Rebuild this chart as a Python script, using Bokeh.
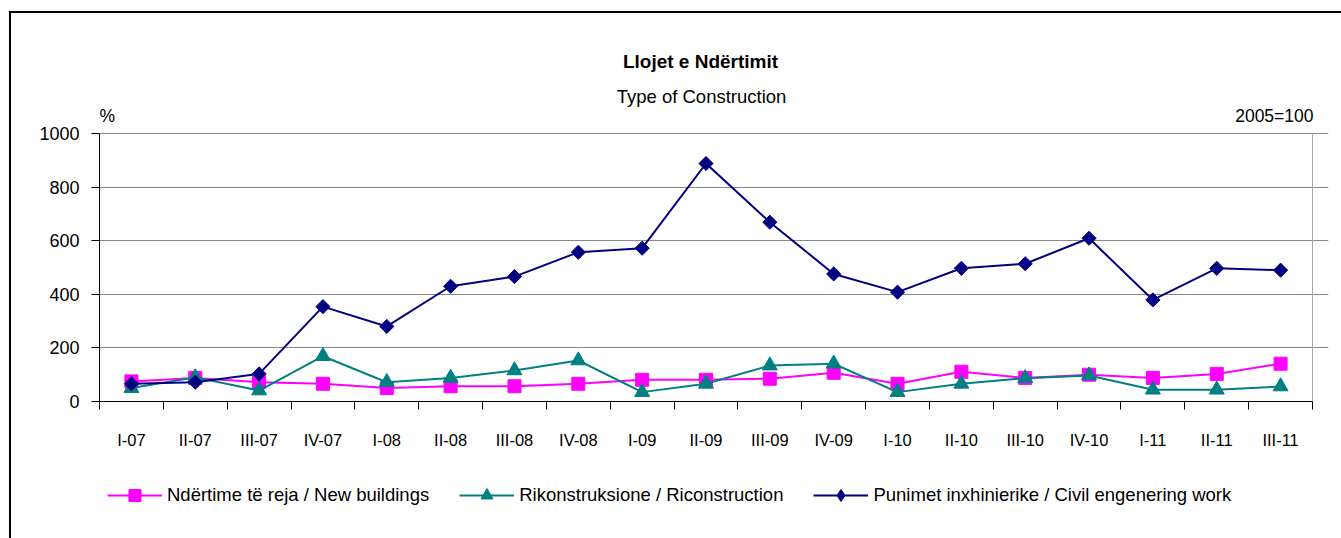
from bokeh.plotting import figure
from bokeh.layouts import column
from bokeh.models import Range1d, FixedTicker, Legend, LegendItem
from bokeh.core.properties import value
from bokeh.embed import file_html
from bokeh.resources import INLINE

quarters = ["I-07", "II-07", "III-07", "IV-07", "I-08", "II-08", "III-08", "IV-08",
            "I-09", "II-09", "III-09", "IV-09", "I-10", "II-10", "III-10", "IV-10",
            "I-11", "II-11", "III-11"]
new_buildings = [75, 88, 72, 66, 50, 57, 57, 66, 81, 81, 85, 107, 66, 111, 88, 100, 88, 103, 141]
reconstruction = [50, 90, 41, 169, 72, 88, 116, 153, 35, 66, 134, 141, 35, 66, 87, 97, 44, 44, 56]
civil_works = [66, 72, 103, 354, 280, 430, 466, 557, 572, 888, 669, 476, 408, 497, 514, 609, 379, 497, 490]
y_ticks = [0, 200, 400, 600, 800, 1000]
y_max = 1000

title_main = "Llojet e Ndërtimit"
title_sub = "Type of Construction"
unit_left = "%"
unit_right = "2005=100"
labels = ["Ndërtime të reja / New buildings", "Rikonstruksione / Riconstruction",
          "Punimet inxhinierike / Civil engenering work"]

FONT = "Liberation Sans"
TXT = "#000000"
n = len(quarters)
xs = [i + 0.5 for i in range(n)]

# layout (pixels)
W = 1330
H_MAIN, H_LEG = 443, 82
PLOT_L, PLOT_R = 88, 1301            # canvas px of the plot area (x = 0 .. n)
FRAME_R = 1317                       # frame reaches a little past the plot area on the right
PLOT_BOTTOM = 388                    # canvas px of y = 0 (frame bottom)
PLOT_H = 268                         # px for y = 0 .. 1000
pxu = (PLOT_R - PLOT_L) / n
x_hi = n + (FRAME_R - PLOT_R) / pxu
y_hi = y_max * PLOT_BOTTOM / PLOT_H

p = figure(width=W, height=H_MAIN, output_backend="svg", toolbar_location=None, title=None,
           x_range=Range1d(0, x_hi), y_range=Range1d(0, y_hi),
           min_border_left=PLOT_L, min_border_right=W - FRAME_R,
           min_border_top=0, min_border_bottom=H_MAIN - PLOT_BOTTOM)

p.outline_line_color = None
p.xgrid.visible = False
p.ygrid.grid_line_color = "#8a8a8a"
p.ygrid.grid_line_width = 1
p.ygrid.ticker = FixedTicker(ticks=y_ticks)
p.ygrid.bounds = (0, n)

xa = p.xaxis[0]
xa.ticker = FixedTicker(ticks=xs, minor_ticks=list(range(n + 1)))
xa.major_label_overrides = {x: q for x, q in zip(xs, quarters)}
xa.bounds = (0, n)
xa.major_tick_out = 0
xa.major_tick_in = 0
xa.minor_tick_out = 8
xa.minor_tick_in = 0
xa.minor_tick_line_color = "#000000"
xa.axis_line_color = "#000000"
xa.major_label_standoff = 21
xa.major_label_text_font = FONT
xa.major_label_text_font_size = "16.5px"
xa.major_label_text_color = TXT

ya = p.yaxis[0]
ya.ticker = FixedTicker(ticks=y_ticks)
ya.bounds = (0, y_max)
ya.major_tick_out = 8
ya.major_tick_in = 0
ya.minor_tick_out = 0
ya.minor_tick_in = 0
ya.major_tick_line_color = "#000000"
ya.axis_line_color = "#000000"
ya.major_label_standoff = 12
ya.major_label_text_font = FONT
ya.major_label_text_font_size = "18px"
ya.major_label_text_color = TXT

# right edge of the plot area
p.segment(x0=[n], y0=[0], x1=[n], y1=[y_max], line_color="#a6a6a6", line_width=1)

colors = ["#FF00FF", "#008080", "#000080"]
series = [new_buildings, reconstruction, civil_works]
markers = ["square", "triangle", "square"]
msizes = [13, 15, 10]
angles = [0, 0, 0.785398]
leg_markers = ["square", "triangle", "diamond"]
leg_sizes = [13, 15, 16]

for vals, c, m, s, a in zip(series, colors, markers, msizes, angles):
    p.line(xs, vals, line_color=c, line_width=2)
    p.scatter(xs, vals, marker=m, size=s, angle=a, fill_color=c, line_color=c)

def add_text(x, y, text, size, bold=False, align="center"):
    p.text(x=[x], y=[y], text=[text], text_font=value(FONT), text_font_size=size,
           text_font_style="bold" if bold else "normal", text_align=align,
           text_baseline="middle", text_color=TXT)

add_text(9.414, 1269, title_main, "19px", bold=True)
add_text(9.43, 1138, title_sub, "18.5px")
add_text(0.0, 1067, unit_left, "17.5px", align="left")
add_text(19.016, 1067, unit_right, "17.5px", align="right")

# legend strip (same series, drawn outside its visible range; only the legend shows)
pl = figure(width=W, height=H_LEG, output_backend="svg", toolbar_location=None, title=None,
            x_range=Range1d(0, 1), y_range=Range1d(0, 1),
            x_axis_type=None, y_axis_type=None, min_border=0)
pl.outline_line_color = None
items = []
for vals, c, m, s, lab in zip(series, colors, leg_markers, leg_sizes, labels):
    r1 = pl.line(xs, vals, line_color=c, line_width=2)
    r2 = pl.scatter(xs, vals, marker=m, size=s, fill_color=c, line_color=c)
    items.append(LegendItem(label=lab, renderers=[r1, r2]))
legend = Legend(items=items, orientation="horizontal", location=(8, 28),
                padding=0, margin=0, spacing=30, glyph_width=55, glyph_height=30,
                label_height=30, label_standoff=5, border_line_color=None,
                background_fill_alpha=0, label_text_font=FONT,
                label_text_font_size="18.5px", label_text_color=TXT)
pl.add_layout(legend, "center")

layout = column(p, pl, spacing=0,
                styles={"border-top": "2px solid #000000", "border-left": "2px solid #000000",
                        "margin-top": "11px", "margin-left": "9px"})

open("out.html", "w").write(file_html(layout, INLINE))
